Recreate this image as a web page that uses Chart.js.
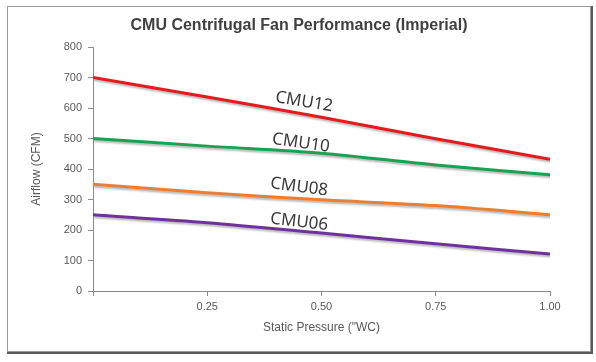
<!DOCTYPE html>
<html>
<head>
<meta charset="utf-8">
<script src="https://cdn.jsdelivr.net/npm/chart.js@4.4.1/dist/chart.umd.min.js"></script>
<style>
  html, body { margin: 0; padding: 0; background: #fff; }
  #wrap { width: 596px; height: 362px; position: relative; }
</style>
</head>
<body>
<div id="wrap"><canvas id="fanChart"></canvas></div>
<script>
// static pressure ("WC) sample points
const pressure = [0, 0.25, 0.5, 0.75, 1.0];

// airflow (CFM) per model
const cmu12 = [700, 636, 570, 499, 432];
const cmu10 = [500, 475, 452, 413, 381];
const cmu08 = [350, 322, 299, 280, 250];
const cmu06 = [250, 224, 190, 155, 121];

const seriesNames = ['CMU12', 'CMU10', 'CMU08', 'CMU06'];
const yTicks = [0, 100, 200, 300, 400, 500, 600, 700, 800];
const xTicks = [0.25, 0.5, 0.75, 1.0];

// where the model names sit along each curve (data units)
const labelX = [0.462, 0.455, 0.451, 0.451];
const labelY = [620, 485, 341, 226];

const lineColors = ['#e8191c', '#19a251', '#ed7d31', '#7030a0'];
const labelAngles = [9.5, 8, 7.5, 6.5];

function toPoints(vals) {
    return vals.map((v, i) => ({ x: pressure[i], y: v }));
}

// frame, title and shadow behind the lines
const decorPlugin = {
    id: 'decor',
    beforeDraw(chart) {
        const ctx = chart.ctx;
        ctx.save();
        ctx.fillStyle = '#fff';
        ctx.fillRect(0, 0, chart.width, chart.height);
        ctx.strokeStyle = '#9a9a9a';
        ctx.lineWidth = 1;
        ctx.strokeRect(7.5, 6.5, 583, 345);
        ctx.strokeStyle = '#5a5a5a';
        ctx.lineWidth = 2;
        ctx.beginPath();
        ctx.moveTo(592, 6);
        ctx.lineTo(592, 353);
        ctx.lineTo(7, 353);
        ctx.stroke();
        ctx.fillStyle = '#404040';
        ctx.font = 'bold 16px "Liberation Sans", Arial, sans-serif';
        ctx.textAlign = 'center';
        ctx.textBaseline = 'middle';
        ctx.fillText('CMU Centrifugal Fan Performance (Imperial)', 299, 26);
        ctx.restore();
    },
    beforeDatasetDraw(chart) {
        const ctx = chart.ctx;
        ctx.save();
        ctx.shadowColor = 'rgba(0,0,0,0.28)';
        ctx.shadowBlur = 2;
        ctx.shadowOffsetX = 1;
        ctx.shadowOffsetY = 2;
    },
    afterDatasetDraw(chart) {
        chart.ctx.restore();
    },
    afterDatasetsDraw(chart) {
        const ctx = chart.ctx;
        const xs = chart.scales.x, ys = chart.scales.y;
        ctx.save();
        ctx.fillStyle = '#3a3a3a';
        ctx.font = '17px "Noto Sans", "Open Sans", sans-serif';
        ctx.textAlign = 'center';
        ctx.textBaseline = 'middle';
        seriesNames.forEach((name, i) => {
            ctx.save();
            ctx.translate(xs.getPixelForValue(labelX[i]), ys.getPixelForValue(labelY[i]));
            ctx.rotate(labelAngles[i] * Math.PI / 180);
            ctx.fillText(name, 0, 0);
            ctx.restore();
        });
        ctx.restore();
    }
};

const tickFont = { family: '"Liberation Sans", Arial, sans-serif', size: 11 };
const titleFont = { family: '"Liberation Sans", Arial, sans-serif', size: 12 };

new Chart(document.getElementById('fanChart'), {
    type: 'line',
    data: {
        datasets: [cmu12, cmu10, cmu08, cmu06].map((vals, i) => ({
            label: seriesNames[i],
            data: toPoints(vals),
            borderColor: lineColors[i],
            borderWidth: 3,
            pointRadius: 0,
            tension: 0.3,
            fill: false
        }))
    },
    options: {
        responsive: true,
        maintainAspectRatio: false,
        animation: false,
        layout: { padding: { left: 0, right: 46, top: 47, bottom: 0 } },
        plugins: {
            legend: { display: false },
            title: { display: false },
            tooltip: { enabled: false }
        },
        scales: {
            x: {
                type: 'linear',
                min: 0,
                max: 1,
                afterBuildTicks(scale) {
                    scale.ticks = [{ value: 0 }].concat(xTicks.map(v => ({ value: v })));
                },
                afterFit(scale) { scale.height = 71; },
                ticks: {
                    color: '#595959',
                    font: tickFont,
                    padding: 4,
                    maxRotation: 0,
                    callback: v => v === 0 ? '' : v.toFixed(2)
                },
                grid: { drawOnChartArea: false, drawTicks: true, tickLength: 5, color: '#8c8c8c' },
                border: { display: true, color: '#8c8c8c', width: 1 },
                title: {
                    display: true,
                    text: 'Static Pressure ("WC)',
                    color: '#595959',
                    font: titleFont,
                    padding: { top: 0, bottom: 27 }
                }
            },
            y: {
                type: 'linear',
                min: 0,
                max: 800,
                afterBuildTicks(scale) {
                    scale.ticks = yTicks.map(v => ({ value: v }));
                },
                afterFit(scale) { scale.width = 93; },
                ticks: { color: '#595959', font: tickFont, padding: 6 },
                grid: { drawOnChartArea: false, drawTicks: true, tickLength: 5, color: '#8c8c8c' },
                border: { display: true, color: '#8c8c8c', width: 1 },
                title: {
                    display: true,
                    text: 'Airflow (CFM)',
                    color: '#595959',
                    font: titleFont,
                    padding: { top: 29, bottom: 0 }
                }
            }
        }
    },
    plugins: [decorPlugin]
});
</script>
</body>
</html>
